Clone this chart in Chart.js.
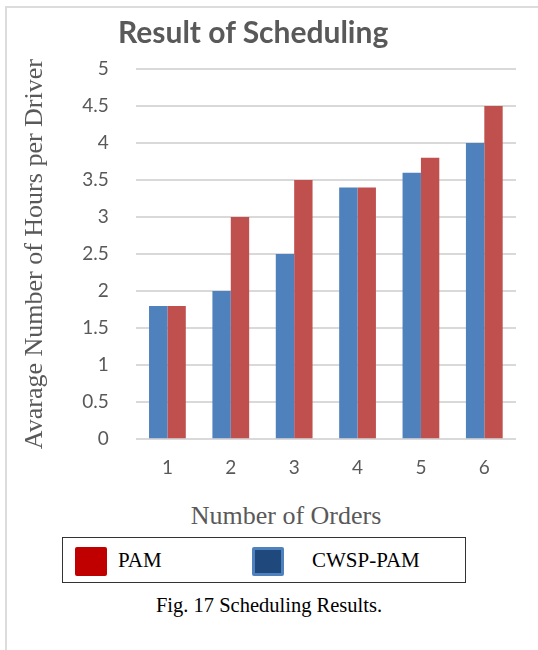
<!DOCTYPE html>
<html>
<head>
<meta charset="utf-8">
<script src="https://cdn.jsdelivr.net/npm/chart.js@4.4.0/dist/chart.umd.min.js"></script>
<style>
  html, body { margin: 0; padding: 0; background: #fff; }
  body { width: 538px; height: 650px; position: relative; overflow: hidden; }
  #marco { position: absolute; left: 5px; top: 6px; width: 540px; height: 660px;
           border-left: 2px solid #dcdcdc; border-top: 2px solid #dcdcdc; }
  #caja { position: absolute; left: 0; top: 0; width: 538px; height: 497px; }
  #titulo { position: absolute; left: 118px; top: 13px; white-space: nowrap;
            font-family: Lato, sans-serif; font-weight: bold; font-size: 30px; color: #595959; }
  #tituloX { position: absolute; left: 86px; width: 400px; top: 501px; text-align: center;
             font-family: "Liberation Serif", serif; font-size: 26px; color: #595959; }
  #leyenda { position: absolute; left: 62px; top: 537px; width: 404px; height: 46px;
             border: 1px solid #333; box-sizing: border-box;
             font-family: "Liberation Serif", "DejaVu Serif", serif; font-size: 21px; color: #000; }
  .cuadro { position: absolute; top: 9px; width: 32px; height: 29px; border-radius: 2px; box-sizing: border-box; }
  .txt { position: absolute; top: 10px; }
  #pie { position: absolute; left: 0; width: 538px; top: 594px; text-align: center;
         font-family: "Liberation Serif", "DejaVu Serif", serif; font-size: 20.5px; color: #000; }
</style>
</head>
<body>
<div id="marco"></div>
<div id="caja"><canvas id="graficoResultado"></canvas></div>
<div id="titulo">Result of Scheduling</div>
<div id="tituloX">Number of Orders</div>
<div id="leyenda">
  <div class="cuadro" style="left:12px; background:#c00000;"></div>
  <div class="txt" style="left:55px;">PAM</div>
  <div class="cuadro" style="left:189px; background:#1f497d; border:3px solid #4f81bd;"></div>
  <div class="txt" style="left:249px;">CWSP-PAM</div>
</div>
<div id="pie">Fig. 17 Scheduling Results.</div>

<script>
//Datos del grafico
var ordenes = ['1', '2', '3', '4', '5', '6'];
var cwspPam = [1.8, 2, 2.5, 3.4, 3.6, 4];
var pam = [1.8, 3, 3.5, 3.4, 3.8, 4.5];

//Grafico barras
var getGraficoResultado = document.getElementById("graficoResultado");
var graficoResultado = new Chart(getGraficoResultado, {
    type : 'bar',
    data : {
        labels: ordenes,
        datasets : [
                {
                    data: cwspPam,
                    label : "CWSP-PAM",
                    backgroundColor : "#4f81bd",
                    categoryPercentage: 0.58,
                    barPercentage: 1
                },
                {
                    data: pam,
                    label : "PAM",
                    backgroundColor : "#c0504d",
                    categoryPercentage: 0.58,
                    barPercentage: 1
                }]
    },
    options : {
        responsive: true,
        maintainAspectRatio: false,
        animation: false,
        layout: {
            padding: { left: 16, right: 22, top: 69, bottom: 9 }
        },
        scales: {
            x: {
                grid: { display: false },
                border: { display: false },
                ticks: { color: "#595959", padding: 9, font: { family: "Lato", size: 19 } }
            },
            y: {
                min: 0,
                max: 5,
                ticks: {
                    stepSize: 0.5,
                    color: "#595959",
                    padding: 27,
                    font: { family: "Lato", size: 19 },
                    callback: function(valor) { return valor; }
                },
                grid: { color: "#d9d9d9", lineWidth: 2, drawTicks: false },
                border: { display: false },
                title: {
                    display: true,
                    text: 'Avarage Number of Hours per Driver',
                    color: "#595959",
                    padding: { bottom: 4 },
                    font: { family: "Liberation Serif", size: 26 }
                }
            }
        },
        plugins:{
            legend:{
                display:false
            },
            tooltip: { enabled: false }
        }
    }
});
</script>
</body>
</html>
